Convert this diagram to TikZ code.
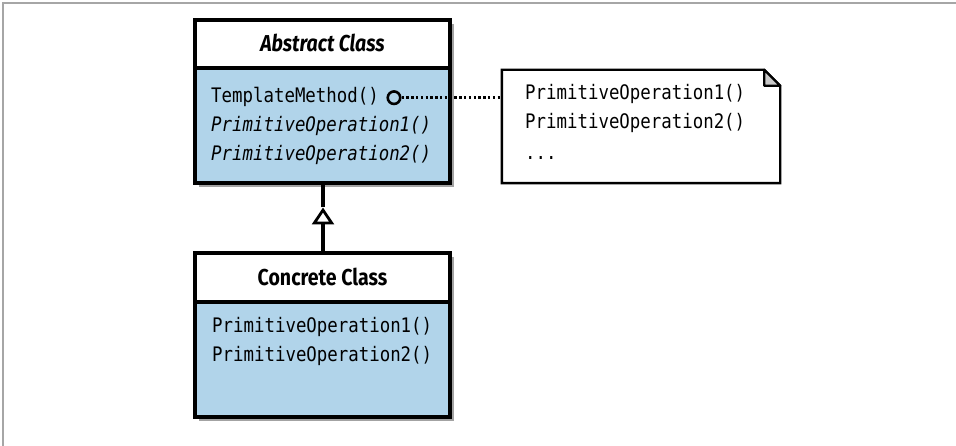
\documentclass[tikz,border=0pt]{standalone}
\usepackage{fontspec}
\usetikzlibrary{arrows.meta,shadows,calc}
\newfontfamily\monof[FakeStretch=0.87]{DejaVu Sans Mono}
\newfontfamily\titlef[FakeStretch=0.85]{Fira Sans}
\definecolor{classblue}{RGB}{177,212,234}
\definecolor{foldgray}{RGB}{200,200,200}
\tikzset{
  classbox/.style={draw=black, line width=3.2pt, fill=classblue, minimum width=255pt, inner sep=0pt,
    drop shadow={shadow xshift=3.5pt, shadow yshift=-4pt, opacity=0.45, fill=black!80}},
  headbox/.style={draw=black, line width=3.2pt, fill=white, minimum width=255pt, minimum height=48pt, inner sep=0pt},
  mono/.style={font=\monof\fontsize{20}{23}\selectfont, inner sep=0pt, anchor=base west},
  monoit/.style={font=\monof\itshape\fontsize{20}{23}\selectfont, inner sep=0pt, anchor=base west},
  titletext/.style={font=\titlef\bfseries\fontsize{23}{26}\selectfont, inner sep=0pt, anchor=base},
  conn/.style={draw=black, line width=3.2pt},
}
\begin{document}
\begin{tikzpicture}[x=1pt,y=-1pt]
\useasboundingbox (0,0) rectangle (956,446);
% outer frame lines (top and left)
\draw[gray!70, line width=1.2pt] (3,446) -- (3,3) -- (956,3);

% Abstract class
\node[classbox, minimum height=163pt] (abs) at (322.5,101.5) {};
\node[headbox, anchor=north] (absh) at (abs.north) {};
\node[titletext, font=\titlef\bfseries\itshape\fontsize{23}{26}\selectfont] (abst) at (322.5,52) {Abstract Class};
\node[mono] (tm) at (211,102.5) {TemplateMethod()};
\node[monoit] (ap1) at (211,131.5) {PrimitiveOperation1()};
\node[monoit] (ap2) at (211,160.5) {PrimitiveOperation2()};
\node[circle, draw=black, line width=2.6pt, fill=classblue, minimum size=12.5pt, inner sep=0pt] (circ) at (394,97.7) {};

% Concrete class
\node[classbox, minimum height=164pt] (con) at (322.5,335) {};
\node[headbox, anchor=north, minimum height=49pt] (conh) at (con.north) {};
\node[titletext] (cont) at (322.5,285.5) {Concrete Class};
\node[mono] (cp1) at (212,332.5) {PrimitiveOperation1()};
\node[mono] (cp2) at (212,361.5) {PrimitiveOperation2()};

% inheritance
\coordinate (tip) at (323,207.5);
\draw[conn, -{Triangle[open, width=22pt, length=17pt, line width=2.8pt]}] (con.north -| tip) -- (tip);
\draw[conn] (tip) -- (abs.south -| tip);

% note
\node[minimum width=278pt, minimum height=113pt, inner sep=0pt] (note) at (641,126.5) {};
\draw[line width=2.4pt, fill=white] (note.north west) -- ($(note.north east)+(-16,0)$) -- ($(note.north east)+(0,16)$) -- (note.south east) -- (note.south west) -- cycle;
\draw[line width=2.2pt, fill=foldgray, line join=round] ($(note.north east)+(-16,0)$) -- ($(note.north east)+(-16,16)$) -- ($(note.north east)+(0,16)$) -- cycle;
\node[mono] (n1) at (525,99.3) {PrimitiveOperation1()};
\node[mono] (n2) at (525,128.3) {PrimitiveOperation2()};
\node[mono] (n3) at (525,160) {...};

% dotted link
\draw[line width=2.6pt, dash pattern=on 2.4pt off 2.4pt] (circ.east) -- (circ.east -| note.west);
\end{tikzpicture}
\end{document}
